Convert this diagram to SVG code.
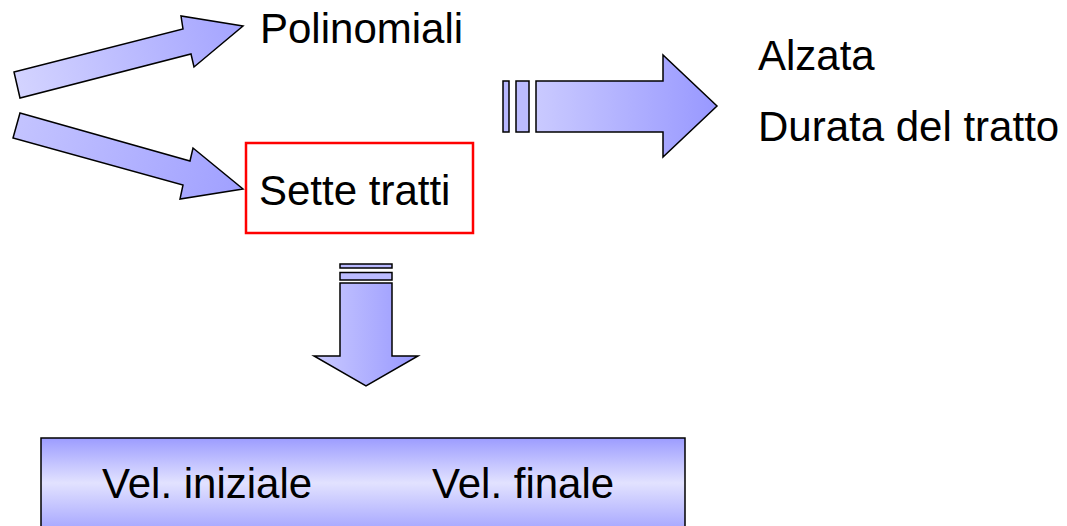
<svg xmlns="http://www.w3.org/2000/svg" width="1067" height="526" viewBox="0 0 1067 526">
<defs>
<linearGradient id="gUp" x1="14" y1="85" x2="243" y2="26" gradientUnits="userSpaceOnUse">
<stop offset="0" stop-color="#d4d4ff"/><stop offset="1" stop-color="#a4a4ff"/>
</linearGradient>
<linearGradient id="gDn" x1="14" y1="125" x2="243" y2="189" gradientUnits="userSpaceOnUse">
<stop offset="0" stop-color="#c4c4ff"/><stop offset="1" stop-color="#a0a0ff"/>
</linearGradient>
<linearGradient id="gH" x1="0" y1="0" x2="1" y2="0">
<stop offset="0" stop-color="#cacaff"/><stop offset="1" stop-color="#9898ff"/>
</linearGradient>
<linearGradient id="gV" x1="0" y1="0" x2="0" y2="1">
<stop offset="0" stop-color="#9c9cff"/><stop offset="0.45" stop-color="#e2e2ff"/><stop offset="1" stop-color="#9c9cff"/>
</linearGradient>
<linearGradient id="gD" x1="0" y1="0" x2="1" y2="0">
<stop offset="0" stop-color="#cacaff"/><stop offset="1" stop-color="#9898ff"/>
</linearGradient>
</defs>
<style>
.t{font-family:"Liberation Sans",Arial,sans-serif;font-size:42px;fill:#000}
.a{stroke:#000;stroke-width:1.5;stroke-linejoin:miter}
</style>
<rect width="1067" height="526" fill="#fff"/>
<g id="connectors">
<polygon class="a" fill="url(#gUp)" points="14,72 183,29 181,16 243,26 194,67 191,54 20,98"/>
<polygon class="a" fill="url(#gDn)" points="20,113 190,161 193,148 243,189 180,199 183,185 13,138"/>
<g id="arrow-right">
<rect class="a" fill="#b8b8ff" x="503" y="81" width="6" height="51"/>
<rect class="a" fill="#bcbcff" x="516" y="81" width="13" height="51"/>
<polygon class="a" fill="url(#gH)" points="536,81 663,81 663,55 717,106 663,157 663,132 536,132"/>
</g>
<g id="arrow-down">
<rect class="a" fill="#b8b8ff" x="340" y="264" width="52" height="4"/>
<rect class="a" fill="#bcbcff" x="340" y="272.5" width="52" height="7.5"/>
<polygon class="a" fill="url(#gD)" points="340,283 392,283 392,356 418,356 366,386 314,356 340,356"/>
</g>
</g>
<g id="polinomiali"><text class="t" x="260" y="43">Polinomiali</text></g>
<g id="sette-tratti">
<rect x="246" y="143" width="227" height="90" fill="#fff" stroke="#ff0000" stroke-width="2.5"/>
<text class="t" x="259" y="205">Sette tratti</text>
</g>
<g id="alzata"><text class="t" x="758" y="70">Alzata</text></g>
<g id="durata"><text class="t" x="758" y="141">Durata del tratto</text></g>
<g id="velocita">
<rect x="41" y="438" width="644" height="100" fill="url(#gV)" stroke="#000" stroke-width="1.5"/>
<text class="t" x="102" y="498">Vel. iniziale</text>
<text class="t" x="432" y="498">Vel. finale</text>
</g>
</svg>
